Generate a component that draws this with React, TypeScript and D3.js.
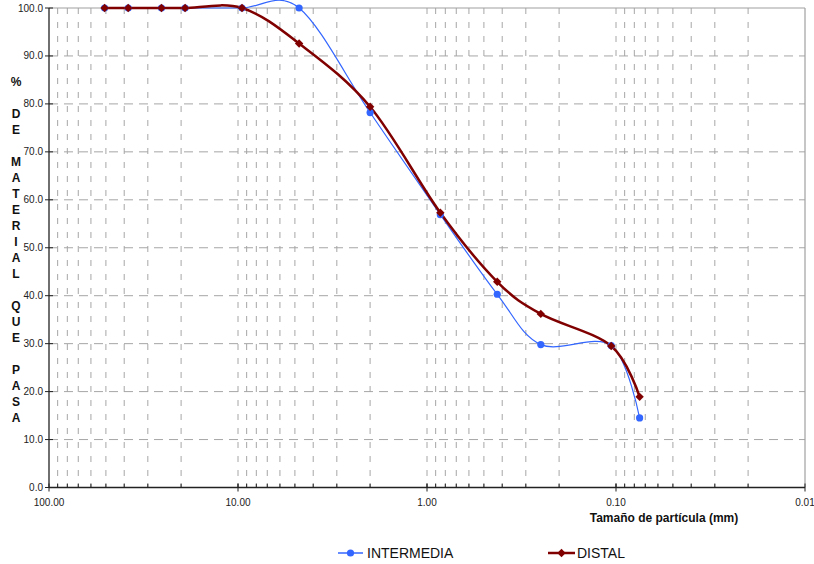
import React from "react";
import * as d3 from "d3";

const sizes = [50.8, 38.1, 25.4, 19.05, 9.525, 4.75, 2.0, 0.85, 0.425, 0.25, 0.106, 0.075];
const intermedia = [100, 100, 100, 100, 100, 100, 78.2, 56.9, 40.3, 29.8, 29.6, 14.5];
const distal = [100, 100, 100, 100, 100, 92.6, 79.4, 57.3, 42.9, 36.2, 29.5, 18.9];
const xMajorTicks = [100, 10, 1, 0.1, 0.01];
const yTicks = [0, 10, 20, 30, 40, 50, 60, 70, 80, 90, 100];
const yTitle = "% DE MATERIAL QUE PASA";
const xTitle = "Tamaño de partícula (mm)";
const seriesNames = ["INTERMEDIA", "DISTAL"];

const W = 814;
const H = 564;
const L = 49, R = 805, T = 8, B = 487.5;
const BLUE = "#3366ff";
const RED = "#800000";
const FONT = "Liberation Sans, Arial, sans-serif";

export default function App() {
  const x = d3.scaleLog().domain([100, 0.01]).range([L, R]);
  const y = d3.scaleLinear().domain([0, 100]).range([B, T]);

  const minor: number[] = [];
  [10, 1, 0.1, 0.01].forEach((dec) => {
    for (let k = 1; k <= 9; k++) {
      const v = dec * k;
      if (v < 100 && v > 0.01) minor.push(v);
    }
  });

  const line = d3
    .line<[number, number]>()
    .x((d) => x(d[0]))
    .y((d) => y(d[1]))
    .curve(d3.curveCardinal.tension(0));

  const blueData: [number, number][] = sizes.map((s, i) => [s, intermedia[i]]);
  const redData: [number, number][] = sizes.map((s, i) => [s, distal[i]]);

  const diamond = (cx: number, cy: number, r: number) =>
    `M${cx},${cy - r}L${cx + r},${cy}L${cx},${cy + r}L${cx - r},${cy}Z`;

  const titleChars = yTitle.split("");

  return (
    <svg
      width={W}
      height={H}
      style={{ position: "absolute", left: 0, top: 0, background: "#fff" }}
      fontFamily={FONT}
    >
      <rect x={0} y={0} width={W} height={H} fill="#fff" />
      {minor.map((v, i) => (
        <line
          key={"vg" + i}
          x1={x(v)}
          x2={x(v)}
          y1={T}
          y2={B}
          stroke="#a6a6a6"
          strokeWidth={1}
          strokeDasharray="6,8"
        />
      ))}
      {yTicks
        .filter((t) => t > 0 && t < 100)
        .map((t) => (
          <line
            key={"hg" + t}
            x1={L}
            x2={R}
            y1={y(t)}
            y2={y(t)}
            stroke="#a6a6a6"
            strokeWidth={1}
            strokeDasharray="9,6"
          />
        ))}
      <line x1={L} x2={R} y1={T} y2={T} stroke="#a0a0a0" strokeWidth={1.2} />
      <line x1={R} x2={R} y1={T} y2={B} stroke="#a0a0a0" strokeWidth={1.2} />
      <line x1={L} x2={L} y1={T} y2={B} stroke="#222" strokeWidth={1.3} />
      <line x1={L} x2={R} y1={B} y2={B} stroke="#222" strokeWidth={1.3} />
      {yTicks.map((t) => (
        <g key={"yt" + t}>
          <line x1={L - 4} x2={L + 4} y1={y(t)} y2={y(t)} stroke="#222" strokeWidth={1} />
          <text
            x={L - 6}
            y={y(t)}
            dy="0.35em"
            textAnchor="end"
            fontSize={10}
            fill="#222"
          >
            {t.toFixed(1)}
          </text>
        </g>
      ))}
      {minor.map((v, i) => (
        <line key={"xm" + i} x1={x(v)} x2={x(v)} y1={B} y2={B - 4} stroke="#222" strokeWidth={1} />
      ))}
      {xMajorTicks.map((t) => (
        <g key={"xt" + t}>
          <line x1={x(t)} x2={x(t)} y1={B - 4} y2={B + 4} stroke="#222" strokeWidth={1} />
          <text x={x(t)} y={505.5} textAnchor="middle" fontSize={10} fill="#222">
            {t.toFixed(2)}
          </text>
        </g>
      ))}
      <text x={664} y={522} textAnchor="middle" fontSize={12} fontWeight="bold" fill="#111">
        {xTitle}
      </text>
      {titleChars.map((c, i) =>
        c === " " ? null : (
          <text
            key={"yc" + i}
            x={16}
            y={82 + i * 16}
            dy="0.35em"
            textAnchor="middle"
            fontSize={12}
            fontWeight="bold"
            fill="#111"
          >
            {c}
          </text>
        )
      )}
      <path d={line(blueData) || ""} fill="none" stroke={BLUE} strokeWidth={1.2} />
      <path d={line(redData) || ""} fill="none" stroke={RED} strokeWidth={2.5} />
      {blueData.map((d, i) => (
        <circle key={"bc" + i} cx={x(d[0])} cy={y(d[1])} r={3.6} fill={BLUE} />
      ))}
      {redData.map((d, i) => (
        <path key={"rd" + i} d={diamond(x(d[0]), y(d[1]), 4.2)} fill={RED} />
      ))}
      <line x1={338} x2={363} y1={553} y2={553} stroke={BLUE} strokeWidth={1.5} />
      <circle cx={350.5} cy={553} r={3.6} fill={BLUE} />
      <text x={367} y={553} dy="0.36em" fontSize={14} fill="#111">
        {seriesNames[0]}
      </text>
      <line x1={548} x2={575} y1={553} y2={553} stroke={RED} strokeWidth={2.5} />
      <path d={diamond(561.5, 553, 4.2)} fill={RED} />
      <text x={577} y={553} dy="0.36em" fontSize={14} fill="#111">
        {seriesNames[1]}
      </text>
    </svg>
  );
}
